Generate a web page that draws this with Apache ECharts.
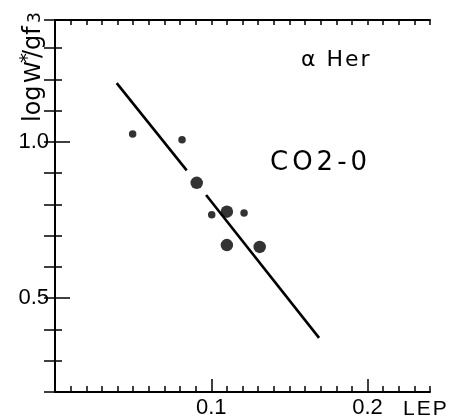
<!DOCTYPE html>
<html>
<head>
<meta charset="utf-8">
<title>alpha Her CO 2-0</title>
<script src="https://cdn.jsdelivr.net/npm/echarts@6/dist/echarts.min.js"></script>
<style>
    html, body { margin: 0; padding: 0; background: #fff; }
    #chart { width: 450px; height: 419px; }
</style>
</head>
<body>
<div id="chart"></div>
<script>
// 小点 (LEP, log W*/gf3)
var smallPts = [[0.0497, 1.025], [0.0813, 1.007], [0.1003, 0.767], [0.121, 0.773]];
// 大点
var largePts = [[0.0907, 0.869], [0.110, 0.777], [0.110, 0.670], [0.131, 0.664]];
// 拟合直线，中间断开
var fitA = [[0.0395, 1.188], [0.0843, 0.909]];
var fitB = [[0.0967, 0.830], [0.169, 0.373]];
// 刻度标签
var xLabels = [0.1, 0.2];
var yLabels = [0.5, 1.0];

window.onload = function () {
    var chart = echarts.init(document.getElementById('chart'));
    var font = 'Liberation Sans';
    var black = '#000';

    // 字母间距：每个字符一个 rich 片段
    function spaced(s) {
        return s.split('').map(function (ch) { return '{c|' + ch + '}'; }).join('');
    }

    function frameAxis(pos, min, max, step, len, extra) {
        var ax = {
            type: 'value',
            position: pos,
            min: min,
            max: max,
            interval: step,
            axisLine: { show: true, lineStyle: { color: black, width: 2 } },
            axisTick: { show: true, inside: true, length: len, lineStyle: { color: black, width: 1.5 } },
            axisLabel: { show: false },
            splitLine: { show: false }
        };
        for (var k in extra) ax[k] = extra[k];
        return ax;
    }

    var option = {
        animation: false,
        backgroundColor: '#fff',
        grid: { left: 55, right: 20, top: 20, bottom: 26 },
        xAxis: [
            frameAxis('bottom', 0, 0.24, 0.01, 6, {
                axisLabel: {
                    show: true, customValues: xLabels, margin: 5,
                    color: black, fontFamily: font, fontSize: 22,
                    formatter: function (v) { return v.toFixed(1); }
                }
            }),
            // 长刻度
            frameAxis('bottom', 0, 0.24, 0.01, 13, {
                axisLine: { show: false },
                axisTick: { show: true, inside: true, length: 13, customValues: xLabels, lineStyle: { color: black, width: 1.5 } }
            }),
            frameAxis('top', 0, 0.24, 0.01, 5, {})
        ],
        yAxis: [
            frameAxis('left', 0.2, 1.39, 0.1, 7, {
                axisLabel: {
                    show: true, customValues: yLabels, margin: 6,
                    color: black, fontFamily: font, fontSize: 22,
                    formatter: function (v) { return v.toFixed(1); }
                }
            }),
            frameAxis('left', 0.2, 1.39, 0.1, 15, {
                axisLine: { show: false },
                axisTick: { show: true, inside: true, length: 15, customValues: yLabels, lineStyle: { color: black, width: 1.5 } }
            }),
            frameAxis('right', 0.2, 1.39, 0.1, 11, {})
        ],
        series: [
            {
                type: 'line', data: fitA, symbol: 'none',
                lineStyle: { color: black, width: 2.6 }, z: 2
            },
            {
                type: 'line', data: fitB, symbol: 'none',
                lineStyle: { color: black, width: 2.6 }, z: 2
            },
            {
                type: 'scatter', data: smallPts, symbolSize: 7.5,
                itemStyle: { color: black }, z: 3
            },
            {
                type: 'scatter', data: largePts, symbolSize: 12.5,
                itemStyle: { color: black }, z: 3
            }
        ],
        graphic: [
            {   // y 轴标题，竖排
                type: 'group', x: 42, y: 122, rotation: Math.PI / 2,
                children: [
                    { type: 'text', x: 0, y: -8.3, style: { text: 'log', font: '24px "DejaVu Sans"', fill: black, verticalAlign: 'middle' } },
                    { type: 'text', x: 39, y: -8, style: { text: 'W', font: '22px "DejaVu Sans"', fill: black, verticalAlign: 'middle' } },
                    { type: 'text', x: 59, y: -14, style: { text: '*', font: '20px "DejaVu Sans"', fill: black, verticalAlign: 'middle' } },
                    { type: 'text', x: 64, y: -8.3, style: { text: '/gf', font: '24px "DejaVu Sans"', fill: black, verticalAlign: 'middle' } },
                    { type: 'text', x: 99, y: -6.5, style: { text: '3', font: '17px "DejaVu Sans"', fill: black, verticalAlign: 'middle' } }
                ]
            },
            {
                type: 'text', x: 300, y: 60,
                style: { text: spaced('α Her'), rich: { c: { fontFamily: 'DejaVu Sans', fontSize: 22, color: black, padding: [0, 1] } }, verticalAlign: 'middle' }
            },
            {
                type: 'text', x: 268, y: 163,
                style: { text: spaced('CO2-0'), rich: { c: { fontFamily: 'DejaVu Sans', fontSize: 26, color: black, padding: [0, 2] } }, verticalAlign: 'middle' }
            },
            {
                type: 'text', x: 402, y: 409,
                style: { text: spaced('LEP'), rich: { c: { fontFamily: font, fontSize: 21, color: black, padding: [0, 1] } }, verticalAlign: 'middle' }
            }
        ]
    };
    chart.setOption(option);
};
</script>
</body>
</html>
